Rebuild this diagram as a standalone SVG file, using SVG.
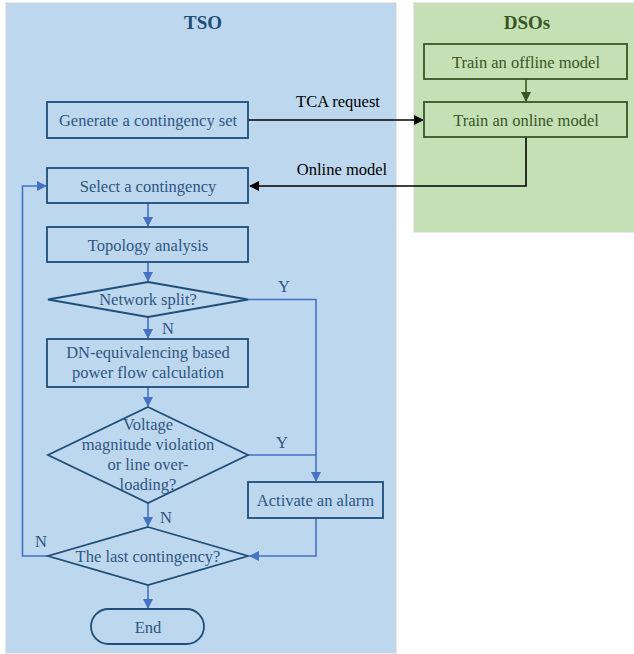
<svg xmlns="http://www.w3.org/2000/svg" width="634" height="654" viewBox="0 0 634 654">
<style>
.t{font-family:"Liberation Serif","Times New Roman",serif;font-size:16.5px;text-anchor:middle}
.tb{fill:#2E5683}
.tg{fill:#385723}
.tk{fill:#000}
.nb{fill:none;stroke:#1F4E79;stroke-width:1.8}
.ng{fill:none;stroke:#385723;stroke-width:1.8}
.cb{fill:none;stroke:#4472C4;stroke-width:1.6}
.ck{fill:none;stroke:#000;stroke-width:1.6}
.cg{fill:none;stroke:#385723;stroke-width:1.6}
.title{font-family:"Liberation Serif","Times New Roman",serif;font-size:19px;font-weight:bold;text-anchor:middle}
</style>
<defs>
<marker id="ab" markerWidth="10" markerHeight="10" refX="9" refY="5" orient="auto" markerUnits="userSpaceOnUse"><path d="M0,0 L10,5 L0,10 z" fill="#4472C4"/></marker>
<marker id="ak" markerWidth="10" markerHeight="10" refX="9" refY="5" orient="auto" markerUnits="userSpaceOnUse"><path d="M0,0 L10,5 L0,10 z" fill="#000"/></marker>
<marker id="ag" markerWidth="10" markerHeight="10" refX="9" refY="5" orient="auto" markerUnits="userSpaceOnUse"><path d="M0,0 L10,5 L0,10 z" fill="#385723"/></marker>
</defs>
<rect width="634" height="654" fill="#fff"/>
<g id="tso-panel">
<rect x="6" y="3" width="390" height="650" fill="#BDD7EE" stroke="#D0D4D8" stroke-width="1"/>
<text class="title" x="203" y="29" fill="#1F4E79">TSO</text>
</g>
<g id="dso-panel">
<rect x="414" y="3" width="222" height="229" fill="#C5E0B4" stroke="#D0D4D8" stroke-width="1"/>
<text class="title" x="527" y="29" fill="#385723">DSOs</text>
</g>
<g id="connectors">
<path class="ck" d="M248,120 H423" marker-end="url(#ak)"/>
<path class="ck" d="M526,137 V186 H250" marker-end="url(#ak)"/>
<path class="cg" d="M526,79 V101" marker-end="url(#ag)"/>
<path class="cb" d="M148,203 V226" marker-end="url(#ab)"/>
<path class="cb" d="M148,262 V281" marker-end="url(#ab)"/>
<path class="cb" d="M148,317 V338" marker-end="url(#ab)"/>
<path class="cb" d="M148,387 V406" marker-end="url(#ab)"/>
<path class="cb" d="M148,503 V526" marker-end="url(#ab)"/>
<path class="cb" d="M148,585 V608" marker-end="url(#ab)"/>
<path class="cb" d="M248,299.5 H316 V481" marker-end="url(#ab)"/>
<path class="cb" d="M248,455 H316"/>
<path class="cb" d="M316,518 V556 H250" marker-end="url(#ab)"/>
<path class="cb" d="M48,556 H22.5 V186 H46" marker-end="url(#ab)"/>
<text class="t tk" x="338" y="107">TCA request</text>
<text class="t tk" x="342" y="175">Online model</text>
<text class="t tb" x="168" y="334">N</text>
<text class="t tb" x="284" y="292">Y</text>
<text class="t tb" x="282" y="448">Y</text>
<text class="t tb" x="166" y="523">N</text>
<text class="t tb" x="41" y="547">N</text>
</g>
<g id="offline">
<rect class="ng" x="424" y="44" width="203" height="35"/>
<text class="t tg" x="526" y="68">Train an offline model</text>
</g>
<g id="online">
<rect class="ng" x="424" y="102" width="203" height="35"/>
<text class="t tg" x="526" y="126">Train an online model</text>
</g>
<g id="generate">
<rect class="nb" x="47" y="102" width="201" height="36"/>
<text class="t tb" x="148" y="126">Generate a contingency set</text>
</g>
<g id="select">
<rect class="nb" x="47" y="168" width="201" height="35"/>
<text class="t tb" x="148" y="192">Select a contingency</text>
</g>
<g id="topology">
<rect class="nb" x="47" y="227" width="201" height="35"/>
<text class="t tb" x="148" y="251">Topology analysis</text>
</g>
<g id="split">
<polygon class="nb" points="148,282 248,299.5 148,317 48,299.5"/>
<text class="t tb" x="148" y="305">Network split?</text>
</g>
<g id="dn">
<rect class="nb" x="47" y="339" width="201" height="48"/>
<text class="t tb" x="148" y="358">DN-equivalencing based</text>
<text class="t tb" x="148" y="378">power flow calculation</text>
</g>
<g id="voltage">
<polygon class="nb" points="148,407 248,455 148,503 48,455"/>
<text class="t tb" x="148" y="430">Voltage</text>
<text class="t tb" x="148" y="450">magnitude violation</text>
<text class="t tb" x="148" y="470">or line over-</text>
<text class="t tb" x="148" y="490">loading?</text>
</g>
<g id="alarm">
<rect class="nb" x="248" y="482" width="135" height="36"/>
<text class="t tb" x="315.5" y="506">Activate an alarm</text>
</g>
<g id="last">
<polygon class="nb" points="148,527 248,556 148,585 48,556"/>
<text class="t tb" x="148" y="562">The last contingency?</text>
</g>
<g id="end">
<rect class="nb" x="91" y="609" width="113" height="35" rx="17.5"/>
<text class="t tb" x="148" y="633">End</text>
</g>
</svg>
